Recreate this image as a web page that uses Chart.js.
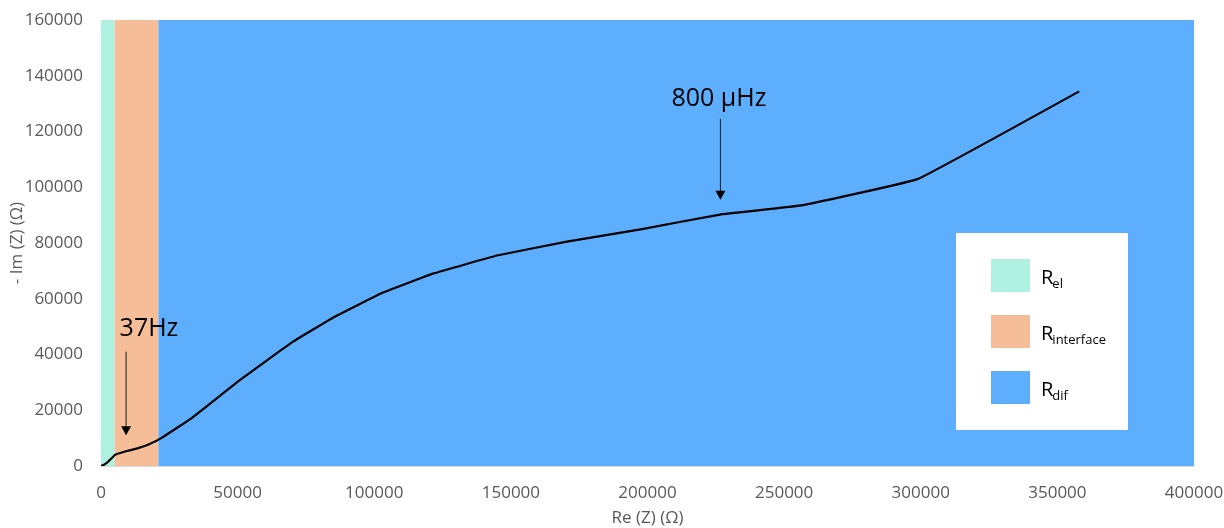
<!DOCTYPE html>
<html>
<head>
<meta charset="utf-8">
<script src="https://cdn.jsdelivr.net/npm/chart.js@4.4.1/dist/chart.umd.min.js"></script>
<style>
  body { margin: 0; background: #fff; }
  #wrap { width: 1224px; height: 528px; }
</style>
</head>
<body>
<div id="wrap"><canvas id="nyquist" width="1224" height="528"></canvas></div>
<script>
// Nyquist curve
const reZ = [0, 1200, 2700, 5100, 8800, 13600, 17200, 22200, 33200, 50900, 70400, 84900, 103200, 121500, 144900, 170500, 198000, 226500, 257000, 299000, 358000];
const imZ = [0, 500, 1600, 4000, 5200, 6400, 7600, 10100, 17200, 30900, 44700, 53200, 62200, 69000, 75500, 80500, 85000, 90200, 93600, 103000, 134400];

// resistance zones along Re(Z)
const bandSubs = ["el", "interface", "dif"];
const bandFrom = [0, 5000, 21000];
const bandTo = [5000, 21000, 400000];
const bandColors = ["#aef1e0", "#f5be99", "#5eaefe"];

// frequency markers
const noteLabels = ["37Hz", "800 µHz"];
const noteX = [9000, 226500];
const noteTop = [41000, 124500];
const noteTip = [11000, 95500];

const FONT = "'Open Sans', 'Noto Sans', sans-serif";

/* ============================
   FONDO DE ZONAS
============================ */
const bandsPlugin = {
    id: "bands",
    beforeDatasetsDraw(chart) {
        const { ctx, chartArea, scales } = chart;
        ctx.save();
        bandFrom.forEach((from, i) => {
            const x1 = scales.x.getPixelForValue(from);
            const x2 = scales.x.getPixelForValue(bandTo[i]);
            ctx.fillStyle = bandColors[i];
            ctx.fillRect(x1, chartArea.top, x2 - x1, chartArea.bottom - chartArea.top);
        });
        ctx.restore();
    }
};

/* ============================
   FLECHAS + LEYENDA
============================ */
const overlayPlugin = {
    id: "overlay",
    afterDatasetsDraw(chart) {
        const { ctx, chartArea, scales } = chart;
        ctx.save();

        noteLabels.forEach((label, i) => {
            const x = scales.x.getPixelForValue(noteX[i]);
            const y1 = scales.y.getPixelForValue(noteTop[i]);
            const y2 = scales.y.getPixelForValue(noteTip[i]);
            ctx.strokeStyle = "#1a1a1a";
            ctx.lineWidth = 1;
            ctx.beginPath();
            ctx.moveTo(x + 0.5, y1);
            ctx.lineTo(x + 0.5, y2 - 8);
            ctx.stroke();
            ctx.fillStyle = "#000";
            ctx.beginPath();
            ctx.moveTo(x + 0.5 - 5, y2 - 9);
            ctx.lineTo(x + 0.5 + 5, y2 - 9);
            ctx.lineTo(x + 0.5, y2);
            ctx.closePath();
            ctx.fill();

            ctx.font = "25px " + FONT;
            ctx.textBaseline = "alphabetic";
            if (i === 0) {
                ctx.textAlign = "left";
                ctx.fillText(label, x - 6, y1 - 16);
            } else {
                ctx.textAlign = "center";
                ctx.fillText(label, x - 1, y1 - 13);
            }
        });

        // legend box
        const bx = chartArea.right - 238;
        const by = chartArea.top + 213;
        ctx.fillStyle = "#fff";
        ctx.fillRect(bx, by, 172, 197);
        bandSubs.forEach((sub, i) => {
            const sy = by + 26 + i * 56;
            ctx.fillStyle = bandColors[i];
            ctx.fillRect(bx + 35, sy, 39, 33);
            ctx.fillStyle = "#000";
            ctx.textAlign = "left";
            ctx.font = "20px " + FONT;
            ctx.fillText("R", bx + 85, sy + 25);
            const w = ctx.measureText("R").width;
            ctx.font = "13px " + FONT;
            ctx.fillText(sub, bx + 85 + w - 1, sy + 29);
        });

        ctx.restore();
    }
};

const tickFont = { family: FONT, size: 17 };

new Chart(document.getElementById("nyquist"), {
    type: "scatter",
    data: {
        datasets: [{
            label: "Nyquist",
            data: reZ.map((x, i) => ({ x: x, y: imZ[i] })),
            showLine: true,
            borderColor: "#000",
            borderWidth: 2.2,
            pointRadius: 0,
            tension: 0.08,
            fill: false
        }]
    },
    options: {
        responsive: false,
        animation: false,
        layout: { padding: { top: 20, right: 30, left: 0, bottom: 0 } },
        plugins: {
            legend: { display: false },
            tooltip: { enabled: false }
        },
        scales: {
            x: {
                type: "linear",
                min: 0,
                max: 400000,
                afterFit: s => { s.height = 62; s.paddingLeft = 0; s.paddingRight = 0; },
                grid: { display: false, drawTicks: false },
                border: { display: true, color: "#d9d9d9", width: 1 },
                ticks: {
                    stepSize: 50000,
                    color: "#595959",
                    font: tickFont,
                    padding: 17,
                    maxRotation: 0,
                    callback: v => String(v)
                },
                title: {
                    display: true,
                    text: "Re (Z) (Ω)",
                    color: "#595959",
                    font: { family: FONT, size: 17 },
                    padding: { top: 0, bottom: 0 }
                }
            },
            y: {
                type: "linear",
                min: 0,
                max: 160000,
                afterFit: s => { s.width = 101; s.paddingTop = 0; s.paddingBottom = 0; },
                grid: { display: false, drawTicks: false },
                border: { display: true, color: "#d9d9d9", width: 1 },
                ticks: {
                    stepSize: 20000,
                    color: "#595959",
                    font: tickFont,
                    padding: 18,
                    callback: v => String(v)
                },
                title: {
                    display: true,
                    text: "- Im (Z) (Ω)",
                    color: "#595959",
                    font: { family: FONT, size: 17 },
                    padding: { top: 7, bottom: 0 }
                }
            }
        }
    },
    plugins: [bandsPlugin, overlayPlugin]
});
</script>
</body>
</html>
